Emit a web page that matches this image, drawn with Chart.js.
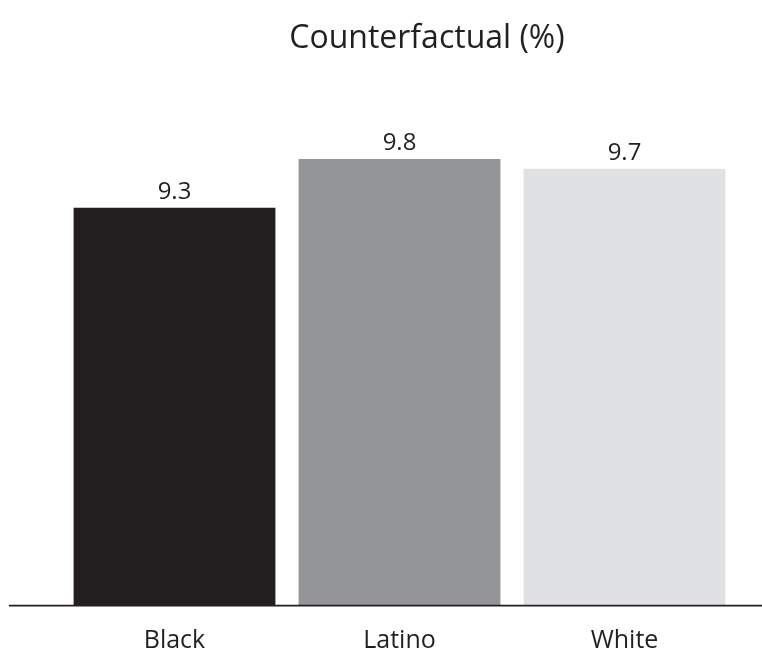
<!DOCTYPE html>
<html>
<head>
<meta charset="utf-8">
<script src="https://cdn.jsdelivr.net/npm/chart.js@4"></script>
<style>
  html, body { margin: 0; padding: 0; background: #fff; }
  #wrap { width: 762px; height: 651px; position: relative; }
</style>
</head>
<body>
<div id="wrap"><canvas id="barChart" width="762" height="651"></canvas></div>
<script>
const categories = ["Black", "Latino", "White"];
const values = [9.3, 9.8, 9.7];
const barColors = ["#231f20", "#939598", "#e0e1e3"];
const chartTitle = "Counterfactual (%)";
// axis in the original doesn't start at 0
const axisMin = 5.22;
const axisMax = 10.2;

const inkColor = "#231f20";
const fontFamily = "'Open Sans', 'Noto Sans', sans-serif";

// Title, value labels and the long baseline
const decorPlugin = {
  id: "decor",
  afterDatasetsDraw(chart) {
    const ctx = chart.ctx;
    const area = chart.chartArea;
    ctx.save();

    // baseline runs past the bars on both sides
    ctx.strokeStyle = inkColor;
    ctx.lineWidth = 1.6;
    ctx.beginPath();
    ctx.moveTo(9, area.bottom + 0.6);
    ctx.lineTo(chart.width, area.bottom + 0.6);
    ctx.stroke();

    // value labels above bars
    ctx.fillStyle = inkColor;
    ctx.font = "24px " + fontFamily;
    ctx.textAlign = "center";
    ctx.textBaseline = "alphabetic";
    chart.getDatasetMeta(0).data.forEach((bar, i) => {
      ctx.fillText(values[i].toFixed(1), bar.x, bar.y - 8.5);
    });

    // title
    ctx.font = "32px " + fontFamily;
    ctx.fillText(chartTitle, 427, 48);
    ctx.restore();
  }
};

const data = {
  labels: categories,
  datasets: [
    {
      data: values,
      backgroundColor: barColors,
      borderWidth: 0,
      base: axisMin,
      categoryPercentage: 1.0,
      barPercentage: 0.897,
    },
  ],
};

const options = {
  responsive: false,
  animation: false,
  layout: {
    padding: { top: 120, left: 62, right: 25, bottom: -26 },
  },
  plugins: {
    legend: { display: false },
    title: { display: false },
    tooltip: { enabled: false },
  },
  scales: {
    x: {
      grid: { display: false, drawTicks: false },
      border: { display: false },
      ticks: {
        padding: 21,
        color: inkColor,
        font: { family: fontFamily, size: 25 },
      },
    },
    y: {
      display: false,
      min: axisMin,
      max: axisMax,
    },
  },
};

const canvas = document.getElementById("barChart");
const chart = new Chart(canvas, {
  type: "bar",
  data: data,
  options: options,
  plugins: [decorPlugin],
});
</script>
</body>
</html>
